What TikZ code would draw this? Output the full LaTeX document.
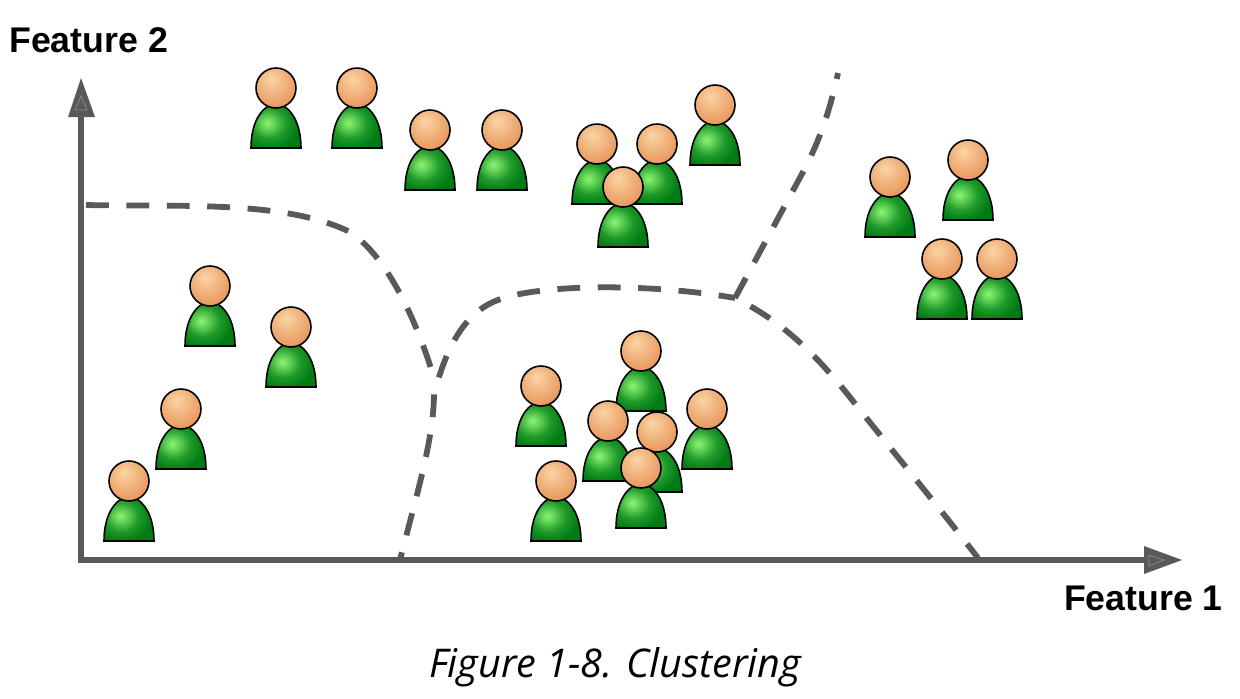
\documentclass[tikz,border=0pt]{standalone}
\usepackage{fontspec}
\setmainfont{Liberation Sans}
\newfontfamily\captionfont{Open Sans}

\definecolor{axisgray}{HTML}{595959}
\definecolor{innergray}{HTML}{8C8C8C}
\definecolor{bodyedge}{HTML}{007A12}
\definecolor{bodymid}{HTML}{1F9A2A}
\definecolor{bodylight}{HTML}{8CF574}
\definecolor{headedge}{HTML}{E8995F}
\definecolor{headlight}{HTML}{FBD5A5}

\pgfdeclareradialshading{bodyglow}{\pgfpoint{-9bp}{3bp}}{%
	color(0bp)=(bodylight); color(7bp)=(bodylight!60!bodymid); color(17bp)=(bodymid); color(29bp)=(bodyedge); color(100bp)=(bodyedge)}
\pgfdeclareradialshading{headglow}{\pgfpoint{-6bp}{11bp}}{%
	color(0bp)=(headlight); color(15bp)=(headedge!50!headlight); color(31bp)=(headedge); color(100bp)=(headedge)}

\tikzset{
	person/.pic={
		\draw[line width=0.9pt, draw=black, shading=bodyglow]
			(-25,-60) .. controls (-25,-35) and (-15,-18) .. (0,-15)
			.. controls (15,-18) and (25,-35) .. (25,-60) -- cycle;
		\draw[line width=0.9pt, draw=black, shading=headglow] (0,0) circle (20);
	},
	axislabel/.style={font=\bfseries\fontsize{20.3}{24}\selectfont, inner sep=0pt, text=black},
	axisline/.style={line width=3.3pt, draw=axisgray},
	boundary/.style={line width=3.3pt, draw=axisgray, dash pattern=on 13pt off 10pt},
	arrowtip/.style={fill=axisgray, draw=none},
	tipinner/.style={draw=innergray, line width=0.4pt}
}

\begin{document}
\begin{tikzpicture}[x=0.02cm,y=0.02cm]
	\useasboundingbox (0,0) rectangle (1240,-698);

	%Axes
	\coordinate (origin) at (81,-560);
	\coordinate (xend) at (1146,-560);
	\coordinate (yend) at (81,-115);
	\draw[axisline] (yend) -- (origin) -- (xend);
	\draw[arrowtip] (1144,-546) -- (1182,-560) -- (1144,-574) -- cycle;
	\draw[tipinner] (1149,-555) -- (1164,-560) -- (1149,-566) -- cycle;
	\draw[arrowtip] (68,-117) -- (81,-78) -- (95,-117) -- cycle;
	\draw[tipinner] (75,-110) -- (81,-96) -- (87,-110) -- cycle;

	%Boundaries
	\coordinate (join) at (735,-298);
	\draw[boundary] (86,-205) .. controls (180,-207) and (285,-200) .. (350,-232)
		.. controls (385,-255) and (415,-315) .. (434,-378);
	\draw[boundary, dash phase=8.5pt] (400,-560) .. controls (415,-500) and (434,-440) .. (434,-393)
		.. controls (440,-375) and (452,-322) .. (491,-303)
		.. controls (530,-283) and (650,-283) .. (join);
	\draw[boundary] (join) -- (803,-172) .. controls (820,-140) and (830,-110) .. (838,-73);
	\draw[boundary, dash phase=13pt] (join) .. controls (790,-325) and (825,-365) .. (860,-410)
		.. controls (900,-460) and (945,-515) .. (978,-558);

	%People
	\foreach \x/\y in {276/88, 357/88, 430/130, 502/130, 715/105, 597/144, 657/144, 623/187,
		890/177, 968/160, 942/259, 997/259,
		210/286, 291/327, 181/409, 129/481,
		541/386, 641/351, 657/432, 707/409, 608/421, 556/481, 641/468}
		\pic at (\x,-\y) {person};

	%Labels
	\node[axislabel, anchor=west] (feature2) at (9,-40) {Feature 2};
	\node[axislabel, anchor=east] (feature1) at (1223,-598) {Feature 1};
	\node[inner sep=0pt, anchor=base, font=\captionfont\itshape\fontsize{22.5}{26}\selectfont] (caption) at (615,-677) {Figure 1-8. Clustering};
\end{tikzpicture}
\end{document}
